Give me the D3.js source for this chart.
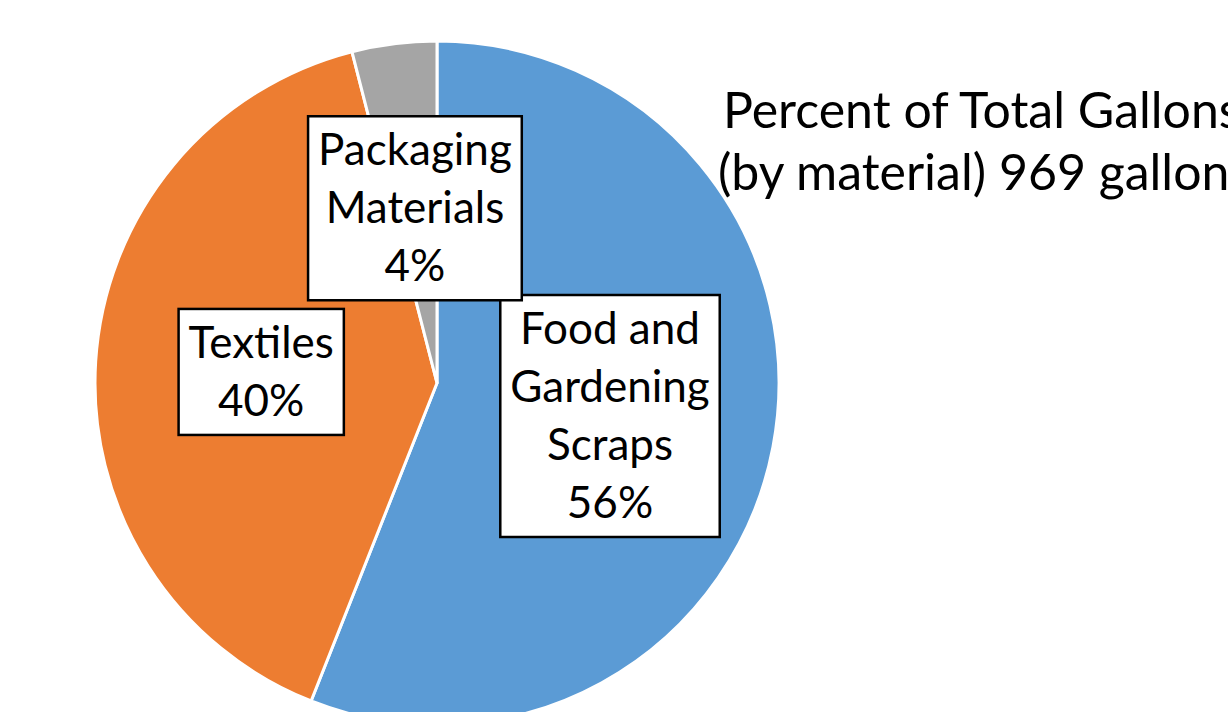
<!DOCTYPE html>
<html>
<head>
<meta charset="utf-8">
<script src="https://cdn.jsdelivr.net/npm/d3@7"></script>
<style>
  html, body { margin: 0; padding: 0; background: #fff; }
  svg { display: block; }
  text { font-family: Lato, "Liberation Sans", sans-serif; fill: #000; }
</style>
</head>
<body>
<svg id="chart" width="1228" height="712"></svg>
<script>
// Share of total gallons collected, by material
const materials = ["Food and Gardening Scraps", "Textiles", "Packaging Materials"];
const percents = [56, 40, 4];
const labelLines = [
  ["Food and", "Gardening", "Scraps", "56%"],
  ["Textiles", "40%"],
  ["Packaging", "Materials", "4%"]
];
const colors = ["#5B9BD5", "#ED7D31", "#A5A5A5"];
const titleLines = ["Percent of Total Gallons", "(by material) 969 gallons"];

const W = 1228, H = 712;
const cx = 437, cy = 383, radius = 342;

const svg = d3.select("#chart");

const data = materials.map((m, i) => ({ name: m, value: percents[i], lines: labelLines[i], color: colors[i] }));

const pie = d3.pie().value(d => d.value).sort(null);
const arcs = pie(data);

const arc = d3.arc().innerRadius(0).outerRadius(radius);
const labelArc = d3.arc().innerRadius(radius * 0.515).outerRadius(radius * 0.515);

const g = svg.append("g").attr("transform", `translate(${cx},${cy})`);

g.selectAll("path.slice")
  .data(arcs)
  .join("path")
  .attr("class", "slice")
  .attr("d", arc)
  .attr("fill", d => d.data.color)
  .attr("stroke", "#fff")
  .attr("stroke-width", 3)
  .attr("stroke-linejoin", "round");

// Data labels: white boxes with black outline, centred on each slice
const fontSize = 44, lineStep = 58, padX = 10, padY = 5;
const labels = g.selectAll("g.label")
  .data(arcs)
  .join("g")
  .attr("class", "label")
  .attr("transform", d => `translate(${labelArc.centroid(d)})`);

labels.each(function(d) {
  const lg = d3.select(this);
  const n = d.data.lines.length;
  const rect = lg.append("rect");
  const txt = lg.append("text")
    .attr("text-anchor", "middle")
    .style("font-size", fontSize + "px");
  d.data.lines.forEach((line, i) => {
    txt.append("tspan")
      .attr("x", 0)
      .attr("y", (i - (n - 1) / 2) * lineStep + fontSize * 0.34)
      .text(line);
  });
  const maxW = d3.max(txt.selectAll("tspan").nodes(), t => t.getComputedTextLength());
  const h = n * lineStep;
  rect.attr("x", -maxW / 2 - padX)
    .attr("y", -h / 2 - padY)
    .attr("width", maxW + 2 * padX)
    .attr("height", h + 2 * padY)
    .attr("fill", "#fff")
    .attr("stroke", "#000")
    .attr("stroke-width", 2.5);
});

// Chart title, running past the right edge
svg.append("text")
  .attr("x", 723)
  .attr("y", 128)
  .style("font-size", "50px")
  .text(titleLines[0]);
svg.append("text")
  .attr("x", 718)
  .attr("y", 190)
  .style("font-size", "50px")
  .text(titleLines[1]);
</script>
</body>
</html>
